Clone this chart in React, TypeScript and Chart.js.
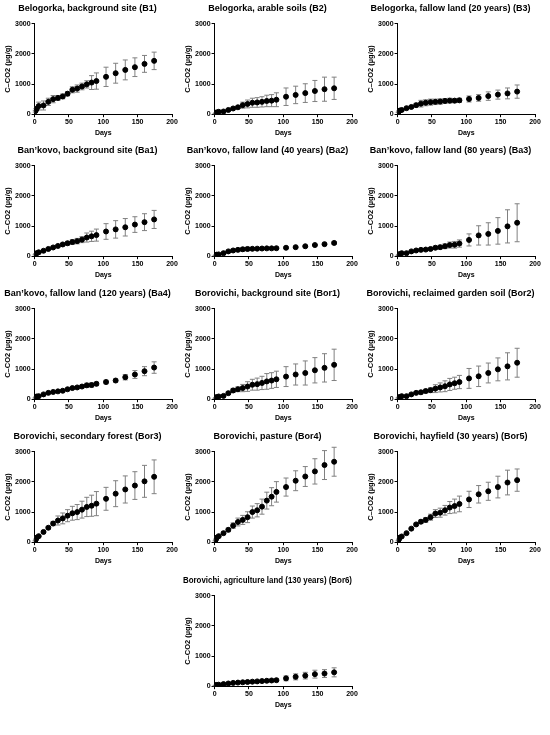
import React, { useEffect, useRef } from 'react';
import Chart from 'chart.js/auto';

// sampling days (same for every site)
const days = [1, 2, 3, 6, 13, 20, 27, 34, 41, 48, 55, 62, 69, 76, 83, 90, 104, 118, 132, 146, 160, 174];

const b1Mean = [100, 150, 180, 270, 290, 410, 500, 540, 590, 680, 810, 850, 920, 990, 1050, 1100, 1240, 1360, 1470, 1560, 1670, 1770];
const b1Sd = [30, 40, 50, 130, 150, 120, 120, 80, 80, 70, 100, 120, 110, 120, 230, 270, 320, 330, 330, 310, 280, 290];

const b2Mean = [20, 40, 60, 80, 90, 140, 190, 230, 300, 340, 380, 390, 410, 440, 450, 480, 580, 640, 700, 770, 830, 860];
const b2Sd = [5, 10, 10, 20, 20, 20, 30, 40, 100, 130, 150, 160, 170, 190, 200, 230, 290, 290, 310, 350, 400, 370];

const b3Mean = [60, 100, 120, 140, 200, 240, 300, 350, 380, 400, 410, 420, 440, 450, 450, 460, 505, 540, 600, 650, 690, 750];
const b3Sd = [10, 20, 20, 20, 30, 40, 60, 110, 100, 100, 90, 90, 80, 80, 70, 70, 100, 110, 140, 150, 180, 220];

const ba1Mean = [50, 80, 100, 130, 180, 240, 290, 340, 390, 430, 470, 500, 550, 620, 660, 700, 820, 890, 960, 1050, 1130, 1220];
const ba1Sd = [10, 10, 20, 20, 20, 20, 30, 30, 40, 60, 80, 90, 100, 150, 170, 200, 260, 290, 290, 260, 280, 300];

const ba2Mean = [20, 40, 50, 60, 100, 160, 190, 210, 230, 240, 245, 250, 255, 260, 260, 265, 280, 300, 330, 370, 400, 440];
const ba2Sd = [5, 5, 10, 10, 20, 30, 40, 50, 60, 60, 40, 30, 30, 30, 30, 30, 30, 20, 20, 20, 30, 50];

const ba3Mean = [30, 50, 70, 100, 100, 160, 190, 210, 220, 240, 280, 300, 330, 370, 380, 420, 540, 690, 740, 840, 990, 1110];
const ba3Sd = [5, 10, 10, 10, 10, 20, 20, 20, 30, 30, 50, 60, 80, 100, 110, 120, 200, 320, 370, 440, 550, 630];

const ba4Mean = [40, 70, 90, 100, 160, 210, 240, 260, 280, 330, 370, 390, 420, 460, 470, 510, 570, 620, 730, 820, 930, 1050];
const ba4Sd = [5, 10, 10, 10, 20, 20, 20, 20, 20, 20, 30, 30, 40, 70, 70, 60, 60, 50, 90, 130, 150, 190];

const bor1Mean = [30, 50, 70, 90, 110, 200, 290, 330, 370, 420, 480, 500, 540, 590, 620, 660, 750, 820, 870, 960, 1040, 1140];
const bor1Sd = [5, 10, 10, 10, 20, 40, 70, 80, 120, 160, 180, 200, 220, 260, 260, 270, 330, 350, 400, 420, 470, 520];

const bor2Mean = [40, 60, 70, 100, 100, 160, 210, 230, 270, 300, 350, 390, 430, 490, 530, 570, 690, 760, 870, 990, 1090, 1210];
const bor2Sd = [5, 10, 10, 10, 10, 20, 30, 50, 60, 80, 130, 150, 180, 200, 200, 220, 330, 340, 330, 380, 450, 480];

const bor3Mean = [50, 100, 150, 200, 340, 480, 620, 720, 790, 880, 960, 1000, 1080, 1170, 1210, 1280, 1440, 1610, 1750, 1880, 2020, 2170];
const bor3Sd = [10, 10, 20, 20, 30, 40, 70, 150, 180, 200, 230, 250, 280, 320, 350, 400, 380, 430, 450, 460, 530, 560];

const bor4Mean = [50, 100, 150, 200, 300, 410, 550, 670, 740, 830, 1000, 1060, 1180, 1380, 1510, 1670, 1830, 2040, 2180, 2350, 2560, 2670];
const bor4Sd = [10, 10, 20, 20, 40, 60, 90, 130, 150, 180, 200, 220, 250, 280, 300, 340, 300, 330, 330, 420, 480, 480];

const bor5Mean = [50, 100, 150, 190, 300, 450, 590, 680, 740, 830, 950, 980, 1060, 1150, 1200, 1270, 1420, 1590, 1690, 1830, 1980, 2060];
const bor5Sd = [10, 10, 20, 20, 20, 30, 40, 60, 80, 100, 130, 150, 160, 200, 230, 260, 270, 290, 300, 360, 410, 370];

const bor6Mean = [20, 30, 40, 50, 70, 90, 110, 120, 130, 140, 150, 160, 170, 180, 190, 200, 260, 310, 350, 400, 420, 460];
const bor6Sd = [5, 5, 10, 10, 10, 20, 20, 20, 20, 30, 30, 30, 30, 40, 40, 40, 80, 100, 110, 130, 130, 150];

const xTicks = [0, 50, 100, 150, 200];
const yTicks = [0, 1000, 2000, 3000];

const FONT = '"Liberation Sans", Arial, Helvetica, sans-serif';
Chart.defaults.font.family = FONT;

type PanelProps = {
  title: string;
  mean: number[];
  sd: number[];
  left: number;
  top: number;
};

const Panel = ({ title, mean, sd, left, top }: PanelProps) => {
  const chartRef = useRef<HTMLCanvasElement>(null);
  const chartInstance = useRef<Chart<'scatter'>>();

  useEffect(() => {
    if (chartInstance.current) {
      chartInstance.current.destroy();
    }
    const ctx = chartRef.current?.getContext('2d');
    if (!ctx) return;

    // mean ± sd whiskers, drawn under the points
    const errorBars = {
      id: 'errorBars',
      beforeDatasetsDraw(chart: Chart) {
        const x = chart.scales.x;
        const y = chart.scales.y;
        const c = chart.ctx;
        c.save();
        c.strokeStyle = '#808080';
        c.lineWidth = 1;
        days.forEach((d, i) => {
          const px = x.getPixelForValue(d);
          const hi = y.getPixelForValue(mean[i] + sd[i]);
          const lo = y.getPixelForValue(Math.max(0, mean[i] - sd[i]));
          c.beginPath();
          c.moveTo(px, hi);
          c.lineTo(px, lo);
          c.moveTo(px - 2.5, hi);
          c.lineTo(px + 2.5, hi);
          c.moveTo(px - 2.5, lo);
          c.lineTo(px + 2.5, lo);
          c.stroke();
        });
        c.restore();
      },
    };

    chartInstance.current = new Chart(ctx, {
      type: 'scatter',
      data: {
        datasets: [
          {
            data: days.map((d, i) => ({ x: d, y: mean[i] })),
            backgroundColor: '#000',
            borderColor: '#000',
            pointRadius: 2.5,
            pointHoverRadius: 2.5,
            showLine: false,
          },
        ],
      },
      options: {
        animation: false,
        responsive: false,
        layout: { padding: { left: 2, right: 12, top: 0, bottom: 4 } },
        plugins: {
          legend: { display: false },
          tooltip: { enabled: false },
          title: {
            display: true,
            text: title,
            color: '#000',
            font: { size: 9, weight: 'bold' },
            padding: { top: 3, bottom: 10 },
          },
        },
        scales: {
          x: {
            type: 'linear',
            min: 0,
            max: 200,
            afterBuildTicks: (s) => {
              s.ticks = xTicks.map((v) => ({ value: v }));
            },
            border: { color: '#000', width: 1 },
            grid: { drawOnChartArea: false, color: '#000', tickLength: 3 },
            ticks: {
              color: '#000',
              padding: 1,
              font: { size: 7, weight: 'bold' },
              maxRotation: 0,
              callback: (v) => String(v),
            },
            title: {
              display: true,
              text: 'Days',
              color: '#000',
              font: { size: 7, weight: 'bold' },
              padding: { top: 1, bottom: 2 },
            },
          },
          y: {
            type: 'linear',
            min: 0,
            max: 3000,
            afterBuildTicks: (s) => {
              s.ticks = yTicks.map((v) => ({ value: v }));
            },
            border: { color: '#000', width: 1 },
            grid: { drawOnChartArea: false, color: '#000', tickLength: 3 },
            ticks: {
              color: '#000',
              padding: 1,
              font: { size: 7, weight: 'bold' },
              callback: (v) => String(v),
            },
            title: {
              display: true,
              text: 'C–CO2 (µg/g)',
              color: '#000',
              font: { size: 7.5, weight: 'bold' },
              padding: { top: 0, bottom: 2 },
            },
          },
        },
      },
      plugins: [errorBars],
    });

    return () => {
      if (chartInstance.current) {
        chartInstance.current.destroy();
      }
    };
  }, [title, mean, sd]);

  return (
    <div style={{ position: 'absolute', left, top, width: 183, height: 143 }}>
      <canvas ref={chartRef} width={183} height={143} style={{ width: 183, height: 143 }} />
    </div>
  );
};

const colLeft = [1, 181, 364];
const rowTop = [0, 142, 285, 428, 572];

const App = () => {
  return (
    <div style={{ position: 'absolute', left: 0, top: 0, width: 550, height: 735, background: '#fff' }}>
      <Panel title="Belogorka, background site (B1)" mean={b1Mean} sd={b1Sd} left={colLeft[0]} top={rowTop[0]} />
      <Panel title="Belogorka, arable soils (B2)" mean={b2Mean} sd={b2Sd} left={colLeft[1]} top={rowTop[0]} />
      <Panel title="Belogorka, fallow land (20 years) (B3)" mean={b3Mean} sd={b3Sd} left={colLeft[2]} top={rowTop[0]} />
      <Panel title="Ban’kovo, background site (Ba1)" mean={ba1Mean} sd={ba1Sd} left={colLeft[0]} top={rowTop[1]} />
      <Panel title="Ban’kovo, fallow land (40 years) (Ba2)" mean={ba2Mean} sd={ba2Sd} left={colLeft[1]} top={rowTop[1]} />
      <Panel title="Ban’kovo, fallow land (80 years) (Ba3)" mean={ba3Mean} sd={ba3Sd} left={colLeft[2]} top={rowTop[1]} />
      <Panel title="Ban’kovo, fallow land (120 years) (Ba4)" mean={ba4Mean} sd={ba4Sd} left={colLeft[0]} top={rowTop[2]} />
      <Panel title="Borovichi, background site (Bor1)" mean={bor1Mean} sd={bor1Sd} left={colLeft[1]} top={rowTop[2]} />
      <Panel title="Borovichi, reclaimed garden soil (Bor2)" mean={bor2Mean} sd={bor2Sd} left={colLeft[2]} top={rowTop[2]} />
      <Panel title="Borovichi, secondary forest (Bor3)" mean={bor3Mean} sd={bor3Sd} left={colLeft[0]} top={rowTop[3]} />
      <Panel title="Borovichi, pasture (Bor4)" mean={bor4Mean} sd={bor4Sd} left={colLeft[1]} top={rowTop[3]} />
      <Panel title="Borovichi, hayfield (30 years) (Bor5)" mean={bor5Mean} sd={bor5Sd} left={colLeft[2]} top={rowTop[3]} />
      <Panel title="Borovichi, agriculture land (130 years) (Bor6)" mean={bor6Mean} sd={bor6Sd} left={colLeft[1]} top={rowTop[4]} />
    </div>
  );
};

export default App;
